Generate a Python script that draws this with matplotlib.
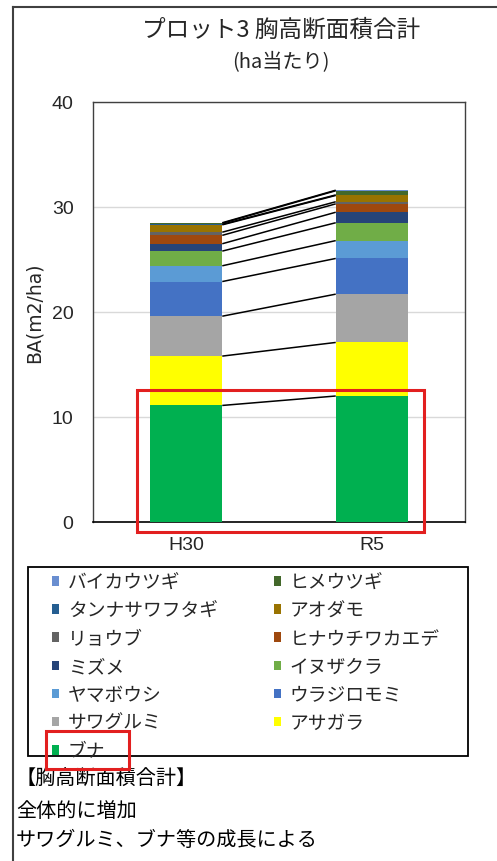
import matplotlib
matplotlib.use("Agg")
import matplotlib.pyplot as plt
from matplotlib.patches import Patch, Rectangle
from matplotlib.lines import Line2D
import numpy as np

plt.rcParams['font.family'] = ['Noto Sans CJK JP', 'DejaVu Sans']

# Survey years (x categories)
years = ["H30", "R5"]

# Species, stacked from the bottom of each bar upward
species = ["ブナ", "アサガラ", "サワグルミ", "ウラジロモミ", "ヤマボウシ", "イヌザクラ",
           "ミズメ", "ヒナウチワカエデ", "リョウブ", "アオダモ", "タンナサワフタギ",
           "ヒメウツギ", "バイカウツギ"]

# Basal area per hectare (m2/ha) by species
ba_h30 = [11.1, 4.7, 3.8, 3.3, 1.5, 1.4, 0.7, 0.8, 0.3, 0.7, 0.05, 0.1, 0.05]
ba_r5 = [12.0, 5.1, 4.6, 3.4, 1.7, 1.7, 1.0, 0.8, 0.2, 0.6, 0.05, 0.4, 0.05]

colors = ["#00B050", "#FFFF00", "#A5A5A5", "#4472C4", "#5B9BD5", "#70AD47",
          "#264478", "#9E480E", "#636363", "#997300", "#255E91", "#43682B",
          "#698ED0"]

y_ticks = [0, 10, 20, 30, 40]

W, H = 497, 862
fig = plt.figure(figsize=(W / 100, H / 100), dpi=100)
fig.patch.set_facecolor("white")

ax = fig.add_axes([93 / W, 1 - 523 / H, 372 / W, 420 / H])

x = np.arange(len(years))
bar_w = 0.39
values = np.array([ba_h30, ba_r5]).T  # shape (species, years)
bottoms = np.zeros(len(years))
for name, vals, col in zip(species, values, colors):
    ax.bar(x, vals, bar_w, bottom=bottoms, color=col, label=name, zorder=3,
           linewidth=0)
    tops = bottoms + vals
    # series line between the two stacks
    ax.plot([x[0] + bar_w / 2, x[1] - bar_w / 2], [tops[0], tops[1]],
            color="black", lw=1.1, zorder=4, solid_capstyle="butt")
    bottoms = tops

ax.set_xlim(-0.5, 1.5)
ax.set_ylim(0, 40)
ax.set_yticks(y_ticks)
ax.set_xticks(x)
ax.set_xticklabels(years)
ax.yaxis.grid(True, color="#D9D9D9", lw=1, zorder=0)
ax.set_axisbelow(True)
ax.tick_params(axis="y", length=0, pad=14, labelsize=14, labelcolor="#262626")
ax.tick_params(axis="x", length=0, pad=10, labelsize=14, labelcolor="#262626")
for lbl in ax.get_yticklabels() + ax.get_xticklabels():
    lbl.set_family(["Liberation Sans", "DejaVu Sans"])
for side in ["top", "right", "left"]:
    ax.spines[side].set_color("#404040")
    ax.spines[side].set_linewidth(1.0)
ax.spines["bottom"].set_color("black")
ax.spines["bottom"].set_linewidth(1.2)

ax.set_ylabel("BA(m2/ha)", fontsize=13.5, family=["DejaVu Sans"], color="#262626")
ax.yaxis.set_label_coords(-0.134, 0.5)

# Highlight box around the ブナ stacks
ax.add_patch(Rectangle((-0.263, -0.95), 1.543, 13.5, transform=ax.transData,
                       fill=False, edgecolor="#E21F1F", lw=2.2, clip_on=False,
                       zorder=6))

# Title
fig.text(281 / W, 1 - 30 / H, "プロット3 胸高断面積合計", ha="center", va="center",
         fontsize=17, color="#262626")
fig.text(281 / W, 1 - 63 / H, "(ha当たり)", ha="center", va="center",
         fontsize=14.5, color="#262626")

# Legend box
fig.add_artist(Rectangle((28 / W, 1 - 757 / H), 440 / W, 189 / H,
                         transform=fig.transFigure, fill=False,
                         edgecolor="black", lw=1.3, zorder=5))

# Legend entries, laid out row by row in two columns (top series first)
handles = [Patch(facecolor=c, edgecolor="none", label=s)
           for s, c in zip(species, colors)][::-1]
ordered = handles[0::2] + handles[1::2]
leg_fs = 13.5
fs_px = leg_fs * 100 / 72
col_sp = 3.0
anchor = [48 / W, 1 - 572 / H]
target_first = (55.5, 582.0)   # first marker centre (px from top-left)
target_col2 = 277.5            # second-column marker centre
fig.canvas.draw()
renderer = fig.canvas.get_renderer()
for _ in range(3):
    leg = fig.legend(handles=ordered, loc="upper left", ncol=2,
                     bbox_to_anchor=tuple(anchor), fontsize=leg_fs,
                     frameon=False, handlelength=0.42, handleheight=0.42,
                     handletextpad=0.45, labelspacing=0.38, borderpad=0,
                     borderaxespad=0, columnspacing=col_sp)
    fig.canvas.draw()
    hb0 = leg.legend_handles[0].get_window_extent(renderer)
    hb7 = leg.legend_handles[7].get_window_extent(renderer)
    cx0 = (hb0.x0 + hb0.x1) / 2
    cy0 = H - (hb0.y0 + hb0.y1) / 2
    cx7 = (hb7.x0 + hb7.x1) / 2
    anchor[0] += (target_first[0] - cx0) / W
    anchor[1] -= (target_first[1] - cy0) / H
    col_sp += (target_col2 - cx7 - (target_first[0] - cx0)) / fs_px
    leg.remove()
leg = fig.legend(handles=ordered, loc="upper left", ncol=2,
                 bbox_to_anchor=tuple(anchor), fontsize=leg_fs,
                 frameon=False, handlelength=0.42, handleheight=0.42,
                 handletextpad=0.45, labelspacing=0.38, borderpad=0,
                 borderaxespad=0, columnspacing=col_sp)
for t in leg.get_texts():
    t.set_color("#262626")
fig.canvas.draw()

# Highlight box around the ブナ legend entry
idx = [t.get_text() for t in leg.get_texts()].index("ブナ")
tb = leg.get_texts()[idx].get_window_extent(renderer)
hb = leg.legend_handles[idx].get_window_extent(renderer)
x0, x1 = hb.x0 - 6, tb.x1 + 24
ymid = (hb.y0 + hb.y1) / 2
y0, y1 = ymid - 19, ymid + 19
fig.add_artist(Rectangle((x0 / W, y0 / H), (x1 - x0) / W, (y1 - y0) / H,
                         transform=fig.transFigure, fill=False,
                         edgecolor="#E21F1F", lw=2.2, zorder=10))

# Notes below the chart
notes = ["【胸高断面積合計】", "全体的に増加", "サワグルミ、ブナ等の成長による"]
for txt, yy in zip(notes, [779, 812, 841]):
    fig.text(16 / W, 1 - yy / H, txt, ha="left", va="center",
             fontsize=14.5, color="black")

# Outer frame (left and top edges)
fig.add_artist(Line2D([13 / W, 13 / W], [0, 1 - 8 / H], transform=fig.transFigure,
                      color="#404040", lw=1.5))
fig.add_artist(Line2D([13 / W, 1], [1 - 8 / H, 1 - 8 / H], transform=fig.transFigure,
                      color="#404040", lw=1.5))

fig.savefig("out.png", dpi=100)
